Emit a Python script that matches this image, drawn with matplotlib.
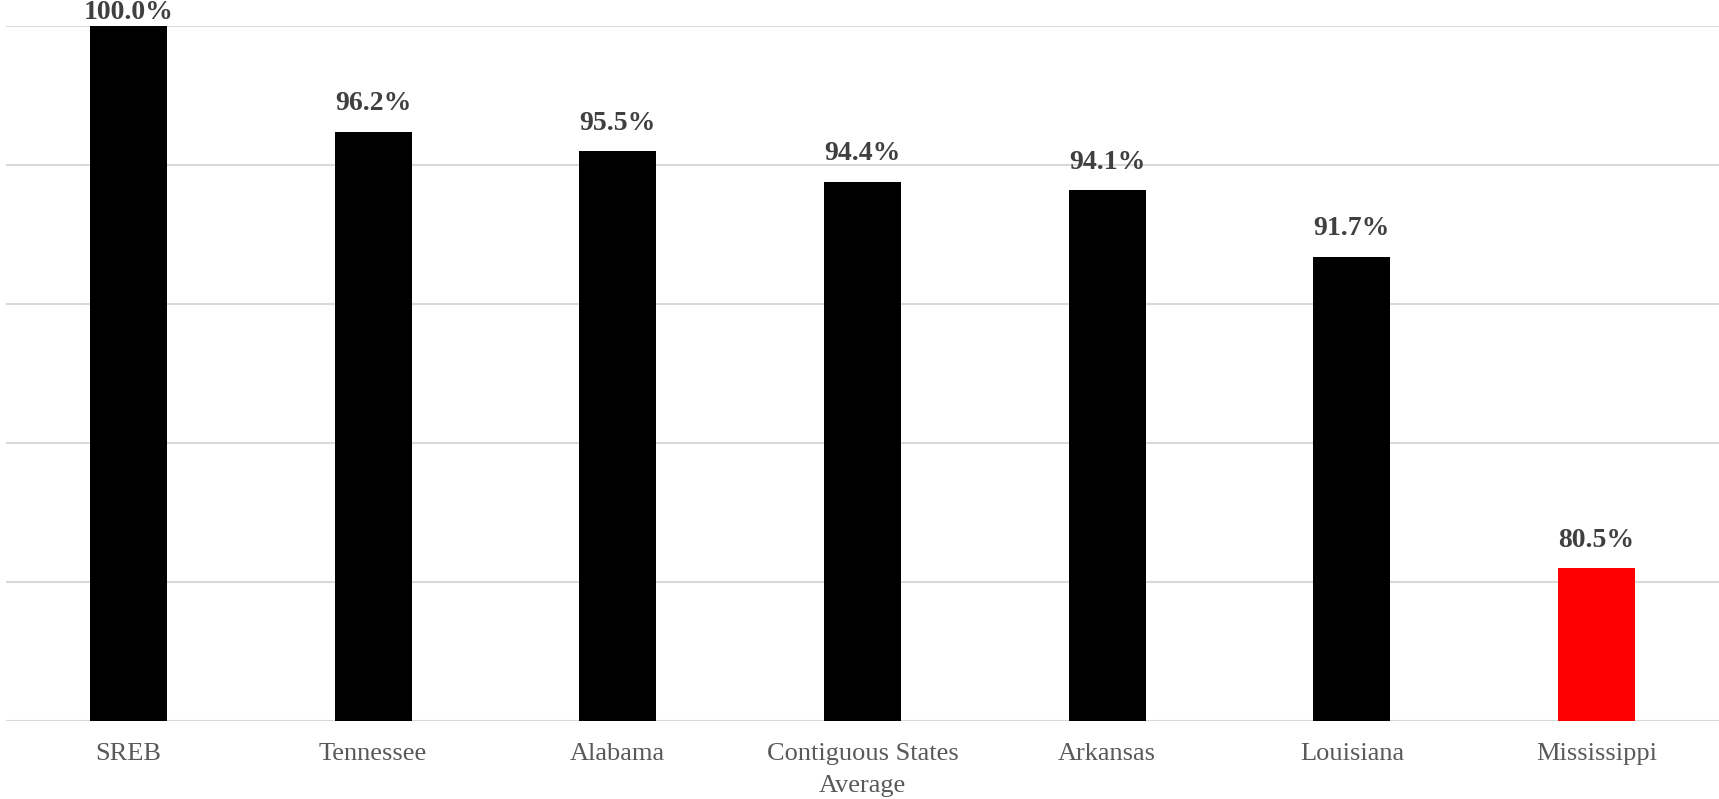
import matplotlib.pyplot as plt

estados = ['SREB', 'Tennessee', 'Alabama', 'Contiguous States\nAverage',
           'Arkansas', 'Louisiana', 'Mississippi']
percentuais = [100.0, 96.2, 95.5, 94.4, 94.1, 91.7, 80.5]
cores = ['#000000'] * 6 + ['#FF0000']

plt.rcParams['font.family'] = ['Liberation Serif', 'DejaVu Serif']

fig = plt.figure(figsize=(17.19, 7.99), dpi=100)
ax = fig.add_axes([0.0035, 0.0976, 0.9965, 0.8699])

x = range(len(estados))
ax.bar(x, percentuais, width=0.315, color=cores, zorder=2)

ax.set_ylim(75, 100)
ax.set_xlim(-0.5, len(estados) - 0.5)
ax.set_yticks([75, 80, 85, 90, 95, 100])
ax.yaxis.grid(True, color='#d9d9d9', linewidth=1.5, zorder=0)
ax.tick_params(axis='y', left=False, labelleft=False)
ax.tick_params(axis='x', length=0, pad=16)
ax.set_xticks(list(x))
ax.set_xticklabels(estados, fontsize=19, color='#595959', linespacing=1.6)
for lado in ['top', 'right', 'left', 'bottom']:
    ax.spines[lado].set_visible(False)

# rotulos de dados acima das barras (o do topo fica colado na borda)
for i, v in enumerate(percentuais):
    desloc = 0.5 if v >= 100 else 11
    ax.annotate(f'{v:.1f}%', xy=(i, v), xytext=(0, desloc),
                textcoords='offset points', ha='center', va='bottom',
                fontsize=20, fontweight='bold', color='#404040',
                annotation_clip=False)

plt.savefig('out.png', dpi=100)
